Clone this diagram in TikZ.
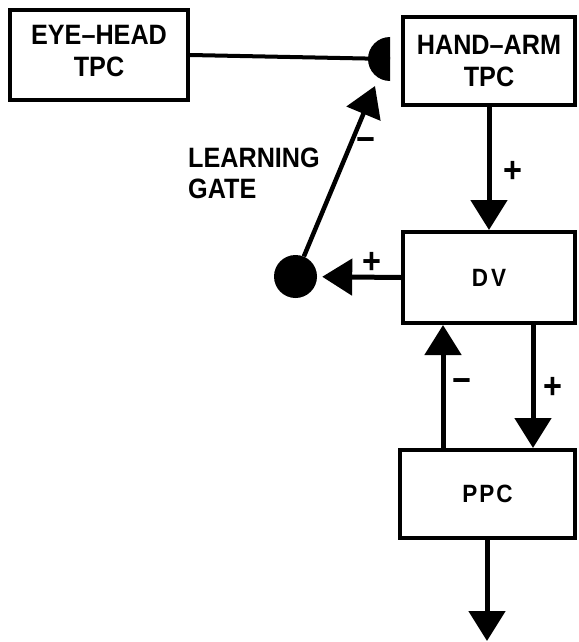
\documentclass[tikz,border=0pt]{standalone}
\usepackage{fontspec}
\setmainfont{Liberation Sans}[FakeStretch=0.9]
\usetikzlibrary{arrows.meta}
\begin{document}
\begin{tikzpicture}[x=1pt,y=-1pt,
  blk/.style={draw, line width=4pt, rectangle, inner sep=0pt, align=center,
              font=\bfseries\fontsize{28}{32}\selectfont},
  small/.style={font=\bfseries\fontsize{25}{30}\selectfont},
  arr/.style={line width=5pt, -{Triangle[length=30pt,width=36pt]}},
  wire/.style={line width=4pt},
  sgn/.style={font=\bfseries\fontsize{36}{36}\selectfont, inner sep=0pt},
  lbl/.style={font=\bfseries\fontsize{28}{31}\selectfont, inner sep=0pt, align=left}]
\useasboundingbox (0,0) rectangle (578,642);

% blocks
\node[blk, minimum width=178pt, minimum height=90pt] (eye) at (99,55) {EYE–HEAD\\TPC\rule[-8pt]{0pt}{8pt}};
\node[blk, minimum width=172pt, minimum height=88pt] (hand) at (489,61) {HAND–ARM\\TPC};
\node[blk, small, minimum width=172pt, minimum height=91pt] (dv) at (489,277.5) {D\hspace{3pt}V};
\node[blk, small, minimum width=175pt, minimum height=88pt] (ppc) at (487.5,494) {P\hspace{2pt}P\hspace{2pt}C};

% gating cell and synapse
\node[circle, fill, minimum size=43pt, inner sep=0pt] (gate) at (295.5,276.5) {};
\coordinate (syn) at (390,59);
\coordinate (gtip) at (375,86);
\coordinate (xdown) at (533,0);
\coordinate (xup) at (443,0);
\coordinate (out) at (487,641);

\draw[wire] (eye.east) -- (syn);
\fill (390,37) arc[start angle=-90, end angle=-270, radius=22] -- cycle;

% connections
\draw[arr] (hand.south) -- (dv.north);
\draw[arr, shorten >=5pt] (dv.west) -- (gate);
\draw[arr, line width=4.5pt] (gate) -- (gtip);
\draw[arr] (dv.south -| xdown) -- (ppc.north -| xdown);
\draw[arr] (ppc.north -| xup) -- (dv.south -| xup);
\draw[arr] (ppc.south -| out) -- (out);

% signs
\node[sgn] (s1) at (513,172) {+};
\node[sgn] (s2) at (372,263) {+};
\node[sgn] (s3) at (366,145) {−};
\node[sgn] (s4) at (462,386) {−};
\node[sgn] (s5) at (553,388) {+};

\node[lbl, anchor=west] (gatelbl) at (188,173) {LEARNING\\GATE};
\end{tikzpicture}
\end{document}
